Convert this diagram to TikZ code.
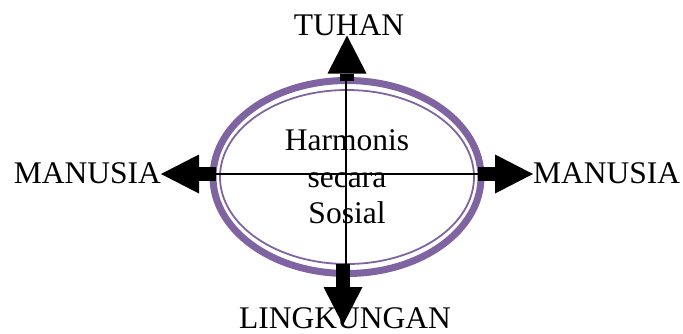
\documentclass[tikz,border=0pt]{standalone}
\usepackage{fontspec}
\setmainfont{Liberation Serif}
\usetikzlibrary{shapes.geometric,arrows.meta}
\definecolor{ungu}{HTML}{8064A2}

\begin{document}
\begin{tikzpicture}[x=1pt,y=-1pt,
  teks/.style={inner sep=0pt,font=\fontsize{31.5}{36.5}\selectfont},
  panah/.style={line width=13.5pt,-{Triangle[length=38pt,width=39pt,line width=0pt]}}]
  \useasboundingbox (0,0) rectangle (683,333);
  \node[draw=ungu,line width=7pt,ellipse,minimum width=268pt,minimum height=193pt,
    inner sep=0pt,outer sep=0pt,align=center,teks] (pusat) at (347,177)
    {Harmonis\\secara\\Sosial};
  \draw[ungu,line width=1.8pt] (pusat.center) ellipse [x radius=127, y radius=87];
  \node[teks,anchor=base] (tuhan) at (349,35) {TUHAN};
  \node[teks,anchor=base east] (kiri) at (161,183) {MANUSIA};
  \node[teks,anchor=base west] (kanan) at (533,183) {MANUSIA};
  \node[teks,anchor=base] (lingkungan) at (345,328) {LINGKUNGAN};
  \coordinate (silang) at (346,174);
  \coordinate (bawah) at (343,325);
  % garis silang di dalam elips
  \draw[line width=1.8pt] (pusat.north -| silang) -- (pusat.south -| silang);
  \draw[line width=1.8pt] (pusat.west |- silang) -- (pusat.east |- silang);
  \draw[panah] (pusat.north) -- (pusat.north |- tuhan.south);
  \draw[panah] ([xshift=3pt]pusat.west |- silang) -- (kiri.east |- silang);
  \draw[panah] ([xshift=-3pt]pusat.east |- silang) -- (kanan.west |- silang);
  \draw[panah] ([yshift=10pt]pusat.south -| bawah) -- (bawah);
\end{tikzpicture}
\end{document}
